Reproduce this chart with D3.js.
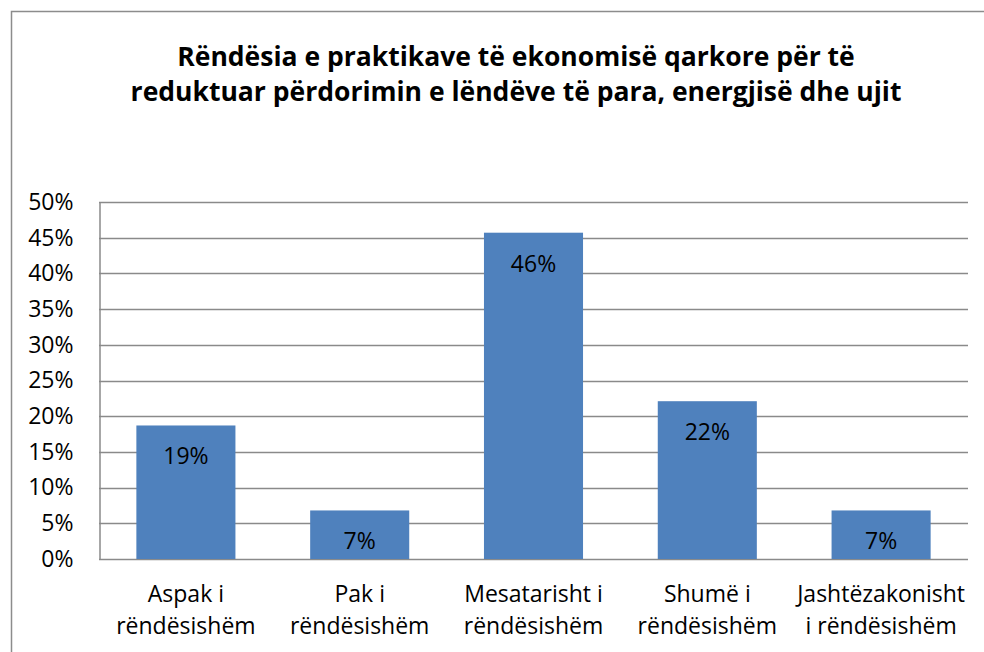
<!DOCTYPE html>
<html lang="sq">
<head>
<meta charset="UTF-8">
<title>Rëndësia e praktikave</title>
<script src="https://d3js.org/d3.v7.min.js"></script>
<style>
  body { margin: 0; background: #fff; }
  text { font-family: "Open Sans", Lato, sans-serif; fill: #000; }
</style>
</head>
<body>
<svg id="chart" width="984" height="652"></svg>
<script>
const categories = [
  ["Aspak i", "rëndësishëm"],
  ["Pak i", "rëndësishëm"],
  ["Mesatarisht i", "rëndësishëm"],
  ["Shumë i", "rëndësishëm"],
  ["Jashtëzakonisht", "i rëndësishëm"]
];
const values = [0.187, 0.068, 0.457, 0.221, 0.068];
const labels = ["19%", "7%", "46%", "22%", "7%"];
const yTicks = [0, 0.05, 0.10, 0.15, 0.20, 0.25, 0.30, 0.35, 0.40, 0.45, 0.50];
const titleLines = [
  "Rëndësia e praktikave të ekonomisë qarkore për të",
  "reduktuar përdorimin e lëndëve të para, energjisë dhe ujit"
];

const width = 984, height = 652;
const margin = { top: 202, right: 16, bottom: 93, left: 99 };
const svg = d3.select("#chart");

// outer frame
svg.append("rect")
  .attr("x", 11.5).attr("y", 11.5)
  .attr("width", width).attr("height", height)
  .attr("fill", "none").attr("stroke", "#8c8c8c").attr("stroke-width", 1.5);

svg.append("g").selectAll("text")
  .data(titleLines).join("text")
  .attr("x", 516).attr("y", (d, i) => 66 + i * 35)
  .attr("text-anchor", "middle")
  .style("font-size", "26.5px").style("font-weight", "bold")
  .text(d => d);

const x = d3.scaleBand()
  .domain(d3.range(categories.length))
  .range([margin.left, width - margin.right])
  .paddingInner(0.43).paddingOuter(0.215);

const y = d3.scaleLinear()
  .domain([0, 0.5])
  .range([height - margin.bottom, margin.top]);

// gridlines
svg.append("g")
  .selectAll("line").data(yTicks).join("line")
  .attr("x1", margin.left).attr("x2", width - margin.right)
  .attr("y1", d => Math.round(y(d)) + 0.5).attr("y2", d => Math.round(y(d)) + 0.5)
  .attr("stroke", "#8a8a8a").attr("stroke-width", 1.5);

// y axis
const yAxis = svg.append("g")
  .attr("transform", `translate(${margin.left + 0.5},0)`)
  .call(d3.axisLeft(y).tickValues(yTicks).tickFormat(d3.format(".0%")).tickSize(0).tickPadding(26));
yAxis.select(".domain").attr("stroke", "#8a8a8a").attr("stroke-width", 1.5);
yAxis.selectAll("text").style("font-size", "23px").attr("fill", "#000")
  .style("font-family", "'Open Sans', sans-serif");

// bars
svg.append("g")
  .selectAll("rect").data(values).join("rect")
  .attr("x", (d, i) => x(i))
  .attr("y", d => y(d))
  .attr("width", x.bandwidth())
  .attr("height", d => y(0) - y(d))
  .attr("fill", "#4f81bd");

// data labels
svg.append("g")
  .selectAll("text").data(values).join("text")
  .attr("x", (d, i) => x(i) + x.bandwidth() / 2)
  .attr("y", d => y(d) + 39)
  .attr("text-anchor", "middle")
  .style("font-size", "23px")
  .text((d, i) => labels[i]);

// category labels
const cat = svg.append("g")
  .selectAll("text").data(categories).join("text")
  .attr("text-anchor", "middle")
  .style("font-size", "23px");
cat.selectAll("tspan").data((d, i) => d.map(t => ({ t, i }))).join("tspan")
  .attr("x", d => x(d.i) + x.bandwidth() / 2)
  .attr("y", (d, j) => 602 + j * 32)
  .text(d => d.t);
</script>
</body>
</html>
